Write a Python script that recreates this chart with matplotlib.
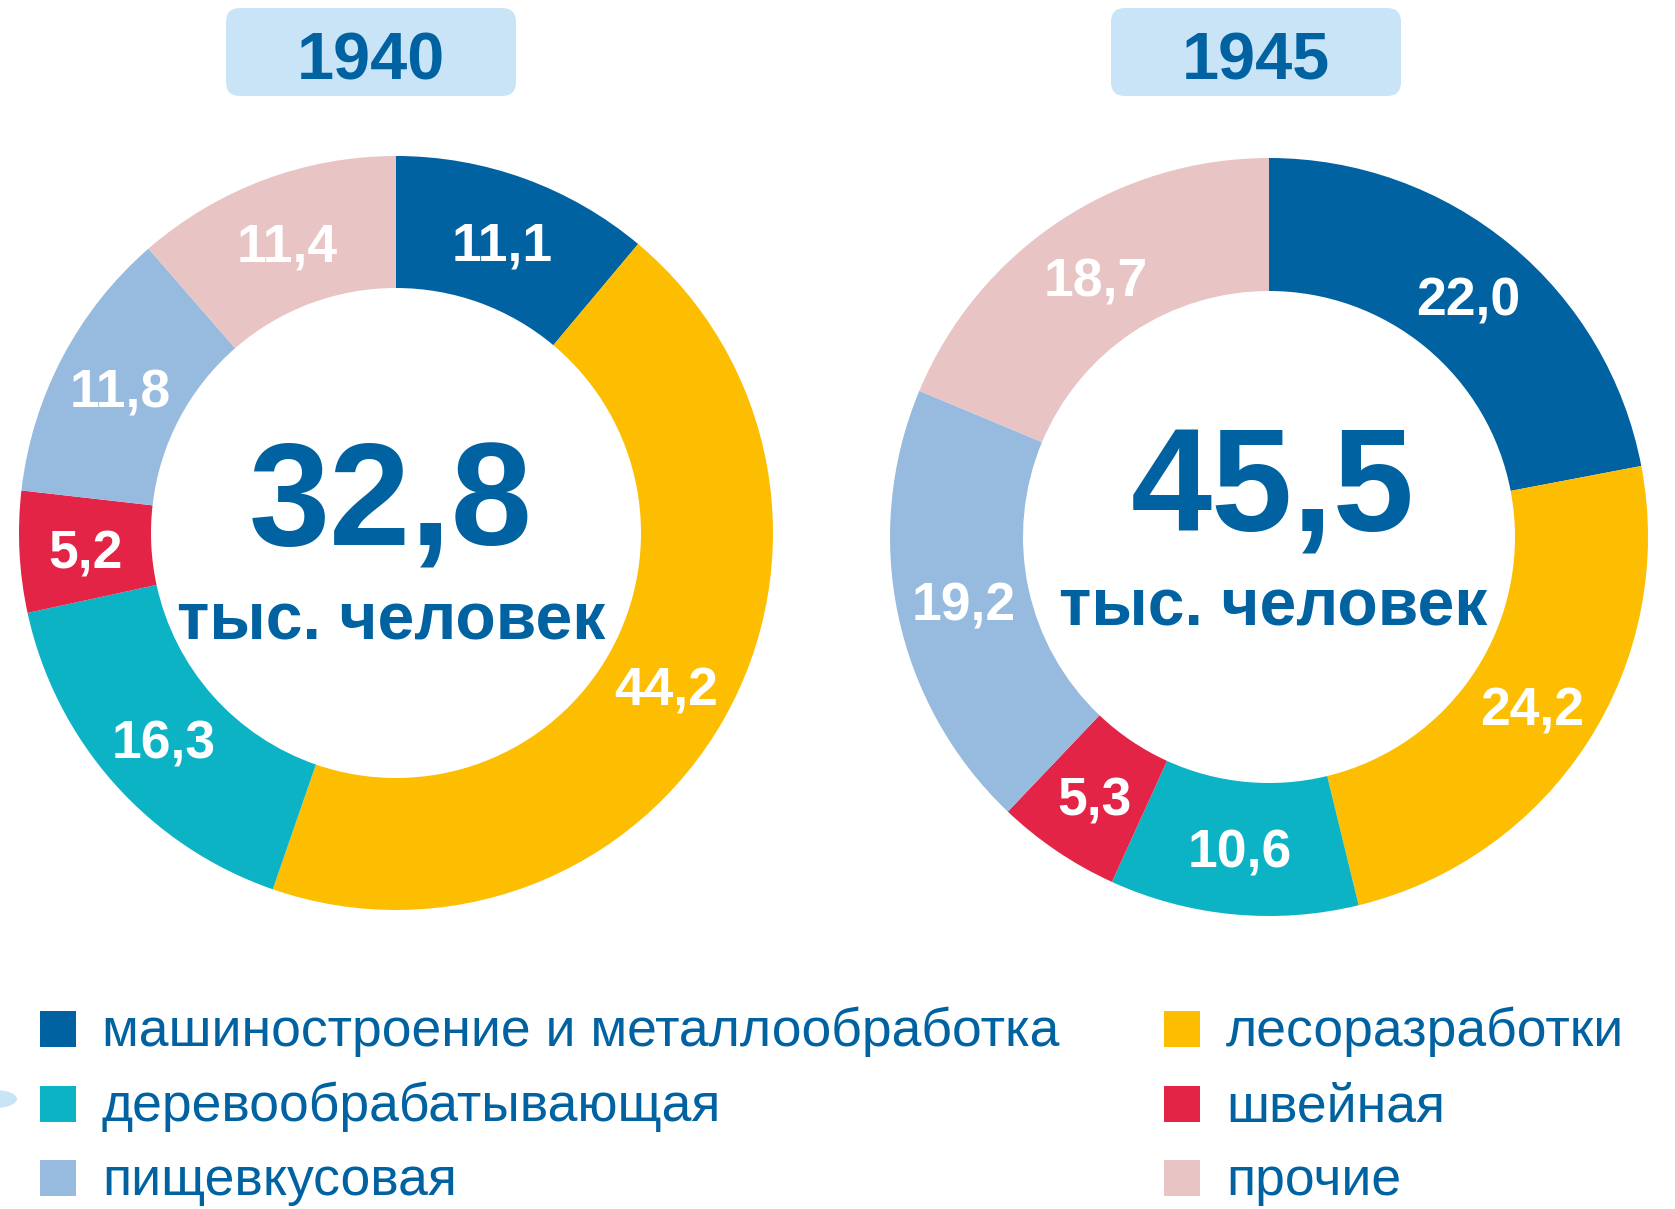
import matplotlib
matplotlib.use('Agg')
from matplotlib import pyplot as plt
from matplotlib.patches import FancyBboxPatch, Rectangle, Ellipse

plt.rcParams['font.family'] = ['Liberation Sans', 'DejaVu Sans']

W, H = 1675, 1209

categories = ['машиностроение и металлообработка', 'лесоразработки', 'деревообрабатывающая',
              'швейная', 'пищевкусовая', 'прочие']
colors = ['#0062A1', '#FDBD00', '#0BB3C5', '#E42446', '#97BBDF', '#E8C4C4']
years = ['1940', '1945']
totals = ['32,8', '45,5']
shares_1940 = [11.1, 44.2, 16.3, 5.2, 11.8, 11.4]
shares_1945 = [22.0, 24.2, 10.6, 5.3, 19.2, 18.7]

TXT = '#0062A0'
BOX = '#C9E3F7'

fig = plt.figure(figsize=(W / 100, H / 100), dpi=100)
ax = fig.add_axes([0, 0, 1, 1])


def y(v):
    # pixel rows from top -> data coords
    return H - v


donuts = [
    # center, radii, title box left, baselines of the total and the unit
    dict(cx=396, cy=533, R=377, r=245, box=226, tb=545, ub=639, tx=391),
    dict(cx=1269, cy=537, R=379, r=246, box=1111, tb=531, ub=625, tx=1273),
]

for d, vals, year, total in zip(donuts, [shares_1940, shares_1945], years, totals):
    labels = [f'{v:.1f}'.replace('.', ',') for v in vals]
    mid = (d['R'] + d['r']) / 2 / d['R']
    wedges, texts = ax.pie(vals, colors=colors, startangle=90, counterclock=False,
                           center=(d['cx'], y(d['cy'])), radius=d['R'],
                           labels=labels, labeldistance=mid,
                           wedgeprops=dict(width=d['R'] - d['r'], linewidth=0),
                           textprops=dict(color='white', fontsize=38.5, fontweight='bold'))
    for t in texts:
        t.set_ha('center')
        t.set_va('center_baseline')

    box = FancyBboxPatch((d['box'] + 14, y(96) + 14), 290 - 28, 88 - 28,
                         boxstyle='round,pad=14', fc=BOX, ec='none')
    ax.add_patch(box)
    ax.text(d['box'] + 145, y(80), year, ha='center', va='baseline',
            fontsize=48, fontweight='bold', color=TXT)
    ax.text(d['tx'], y(d['tb']), total, ha='center', va='baseline',
            fontsize=105, fontweight='bold', color=TXT)
    ax.text(d['tx'], y(d['ub']), 'тыс. человек', ha='center', va='baseline',
            fontsize=47.5, fontweight='bold', color=TXT)

# legend
col_x = [40, 1164]
rows = [1011, 1086, 1160]
order = [(0, 0, 0), (1, 1, 0), (2, 0, 1), (3, 1, 1), (4, 0, 2), (5, 1, 2)]
for i, c, rw in order:
    ax.add_patch(Rectangle((col_x[c], y(rows[rw] + 36)), 36, 36, fc=colors[i], ec='none'))
    ax.text(col_x[c] + 62, y(rows[rw] + 35), categories[i], ha='left', va='baseline',
            fontsize=38.5, color=TXT)

ax.add_patch(Ellipse((-5, y(1099)), 44, 18, fc=BOX, ec='none'))

ax.set_xlim(0, W)
ax.set_ylim(0, H)
ax.set_aspect('equal')
ax.axis('off')

plt.savefig('out.png', dpi=100)
